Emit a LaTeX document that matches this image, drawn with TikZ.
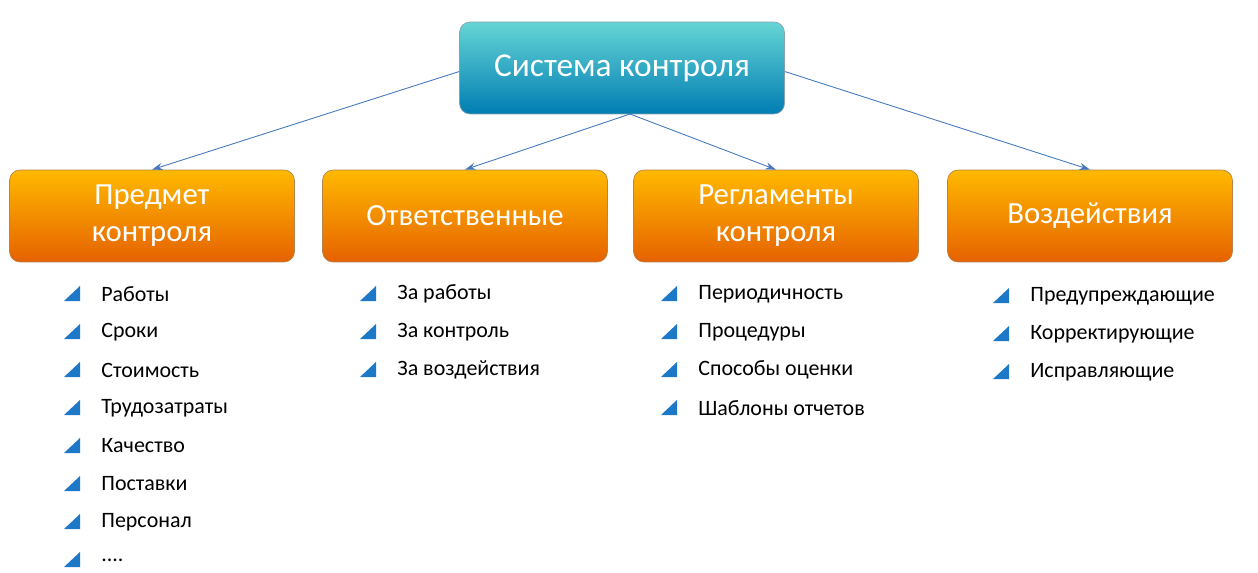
\documentclass[tikz,border=0pt]{standalone}
\usepackage{fontspec}
\setmainfont{Carlito}
\usetikzlibrary{positioning,arrows.meta,calc}
\definecolor{linkblue}{RGB}{70,120,190}
\definecolor{bulblue}{RGB}{30,120,200}
\newcommand\moredots{....}
\begin{document}
\begin{tikzpicture}
  [
  x=0.02cm, y=-0.02cm, >={Stealth[length=6pt,width=4pt]},
  topbox/.style={rectangle, rounded corners=6pt, minimum width=6.5cm, minimum height=1.84cm,
    top color=cyan!45!teal!60, bottom color=cyan!70!blue!70!black, draw=cyan!40!black!60,
    text=white, font=\fontsize{19}{23}\selectfont, align=center},
  groupbox/.style={rectangle, rounded corners=6pt, minimum width=5.7cm, minimum height=1.84cm,
    top color=orange!55!yellow, bottom color=orange!85!red!90!black, draw=orange!60!black!70,
    text=white, font=\fontsize{17.5}{21}\selectfont, align=center},
  item/.style={anchor=west, inner sep=0pt, font=\fontsize{12.5}{15}\selectfont},
  link/.style={->, draw=linkblue, line width=0.5pt}
  ]
\useasboundingbox (0,0) rectangle (1258,572);

\node[topbox] (sys) at (622,68) {Система контроля};

\node[groupbox] (g1) at (152,216) {Предмет\\контроля};
\node[groupbox] (g2) at (465,216) {Ответственные};
\node[groupbox] (g3) at (776,216) {Регламенты\\контроля};
\node[groupbox] (g4) at (1090,216) {Воздействия};

\coordinate (sysbot) at (630,114);
\draw[link] ([yshift=-2pt]sys.west) -- (g1.north);
\draw[link] (sysbot) -- (g2.north);
\draw[link] (sysbot) -- (g3.north);
\draw[link] ([yshift=-2pt]sys.east) -- (g4.north);

% lists
\foreach \t [count=\i] in {Работы,Сроки,Стоимость,Трудозатраты,Качество,Поставки,Персонал,\moredots}
  \node[item] (a\i) at (101,256+38*\i) {\t};
\foreach \t [count=\i] in {За работы,За контроль,За воздействия}
  \node[item] (b\i) at (397,256+38*\i) {\t};
\foreach \t [count=\i] in {Периодичность,Процедуры,Способы оценки,Шаблоны отчетов}
  \node[item] (c\i) at (698,256+38*\i) {\t};
\foreach \t [count=\i] in {Предупреждающие,Корректирующие,Исправляющие}
  \node[item] (d\i) at (1030,258+38*\i) {\t};

% bullets
\foreach \n/\k in {a/8,b/3,c/4,d/3}
  \foreach \i in {1,...,\k}
    \fill[bulblue] ($(\n\i.west)+(-37,7)$) -- ++(16,0) -- ++(0,-15) -- cycle;
\end{tikzpicture}
\end{document}
